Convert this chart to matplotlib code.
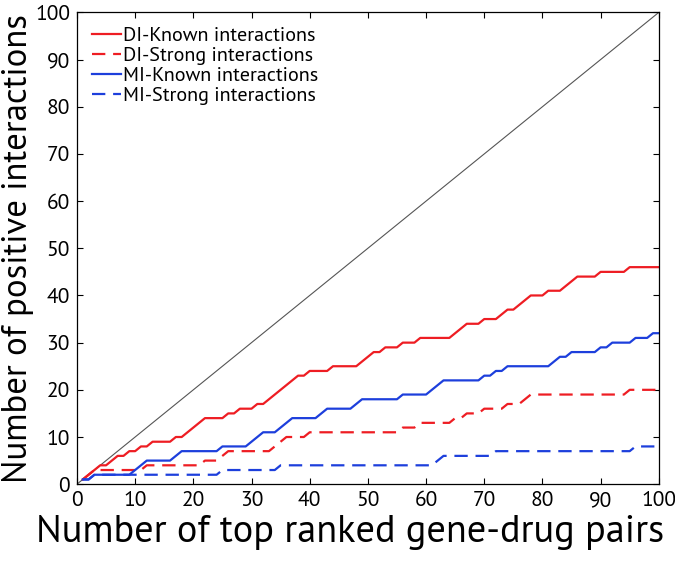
import numpy as np
import matplotlib
matplotlib.use('Agg')
import matplotlib.pyplot as plt

plt.rcParams['font.family'] = ['Source Sans Pro', 'PT Sans', 'DejaVu Sans']

# number of top ranked pairs
k = np.arange(1, 101)

# cumulative positives
di_known = [
    1, 2, 3, 4, 4, 5, 6, 6, 7, 7,
    8, 8, 9, 9, 9, 9, 10, 10, 11, 12,
    13, 14, 14, 14, 14, 15, 15, 16, 16, 16,
    17, 17, 18, 19, 20, 21, 22, 23, 23, 24,
    24, 24, 24, 25, 25, 25, 25, 25, 26, 27,
    28, 28, 29, 29, 29, 30, 30, 30, 31, 31,
    31, 31, 31, 31, 32, 33, 34, 34, 34, 35,
    35, 35, 36, 37, 37, 38, 39, 40, 40, 40,
    41, 41, 41, 42, 43, 44, 44, 44, 44, 45,
    45, 45, 45, 45, 46, 46, 46, 46, 46, 46]

di_strong = [
    1, 2, 3, 3, 3, 3, 3, 3, 3, 3,
    3, 4, 4, 4, 4, 4, 4, 4, 4, 4,
    4, 5, 5, 5, 6, 7, 7, 7, 7, 7,
    7, 7, 7, 8, 9, 10, 10, 10, 10, 11,
    11, 11, 11, 11, 11, 11, 11, 11, 11, 11,
    11, 11, 11, 11, 11, 12, 12, 12, 13, 13,
    13, 13, 13, 13, 14, 14, 15, 15, 15, 16,
    16, 16, 16, 17, 17, 17, 18, 19, 19, 19,
    19, 19, 19, 19, 19, 19, 19, 19, 19, 19,
    19, 19, 19, 19, 20, 20, 20, 20, 20, 20]

mi_known = [
    1, 1, 2, 2, 2, 2, 2, 2, 2, 3,
    4, 5, 5, 5, 5, 5, 6, 7, 7, 7,
    7, 7, 7, 7, 8, 8, 8, 8, 8, 9,
    10, 11, 11, 11, 12, 13, 14, 14, 14, 14,
    14, 15, 16, 16, 16, 16, 16, 17, 18, 18,
    18, 18, 18, 18, 18, 19, 19, 19, 19, 19,
    20, 21, 22, 22, 22, 22, 22, 22, 22, 23,
    23, 24, 24, 25, 25, 25, 25, 25, 25, 25,
    25, 26, 27, 27, 28, 28, 28, 28, 28, 29,
    29, 30, 30, 30, 30, 31, 31, 31, 32, 32]

mi_strong = [
    1, 1, 2, 2, 2, 2, 2, 2, 2, 2,
    2, 2, 2, 2, 2, 2, 2, 2, 2, 2,
    2, 2, 2, 2, 3, 3, 3, 3, 3, 3,
    3, 3, 3, 3, 4, 4, 4, 4, 4, 4,
    4, 4, 4, 4, 4, 4, 4, 4, 4, 4,
    4, 4, 4, 4, 4, 4, 4, 4, 4, 4,
    4, 5, 6, 6, 6, 6, 6, 6, 6, 6,
    6, 7, 7, 7, 7, 7, 7, 7, 7, 7,
    7, 7, 7, 7, 7, 7, 7, 7, 7, 7,
    7, 7, 7, 7, 7, 8, 8, 8, 8, 8]

red = '#ee1d23'
blue = '#1d3fdc'
dash = (6, 3.5)

fig = plt.figure(figsize=(6.75, 5.63), dpi=100)
ax = fig.add_axes([0.114, 0.140, 0.862, 0.838])

ax.plot([0, 100], [0, 100], color='#555555', lw=0.8)
ax.plot(k, di_known, color=red, lw=1.6, label='DI-Known interactions')
ax.plot(k, di_strong, color=red, lw=1.6, dashes=dash, label='DI-Strong interactions')
ax.plot(k, mi_known, color=blue, lw=1.6, label='MI-Known interactions')
ax.plot(k, mi_strong, color=blue, lw=1.6, dashes=dash, label='MI-Strong interactions')

ax.set_xlim(0, 100)
ax.set_ylim(0, 100)
ax.set_xticks(np.arange(0, 101, 10))
ax.set_yticks(np.arange(0, 101, 10))
ax.tick_params(direction='in', top=True, right=True, length=4.5, width=0.8,
               labelsize=15.5, pad=5)
for s in ax.spines.values():
    s.set_linewidth(0.9)

ax.set_xlabel('Number of top ranked gene-drug pairs', fontsize=27.5)
ax.set_ylabel('Number of positive interactions', fontsize=25)
ax.xaxis.set_label_coords(0.47, -0.065)
ax.yaxis.set_label_coords(-0.073, 0.5)

ax.legend(loc='upper left', bbox_to_anchor=(0.005, 0.995), frameon=False,
          fontsize=14.5, handlelength=1.45, handletextpad=0.1, labelspacing=0.1,
          borderaxespad=0.2)

fig.savefig('out.png', dpi=100)
